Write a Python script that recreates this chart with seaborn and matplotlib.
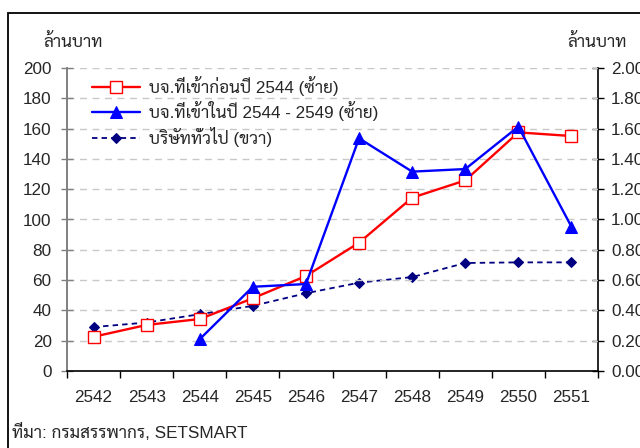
import matplotlib
matplotlib.use("Agg")
import matplotlib.pyplot as plt
from matplotlib.patches import Rectangle
from matplotlib.ticker import FixedLocator, FormatStrFormatter
import seaborn as sns
import pandas as pd

# Years (Thai Buddhist calendar)
years = ["2542", "2543", "2544", "2545", "2546", "2547", "2548", "2549", "2550", "2551"]

# Listed before 2544 (left axis, million baht)
listed_before_2544 = [22.6, 30.4, 34.3, 48, 62.7, 84.7, 114.4, 125.8, 157.5, 155.1]
# Listed during 2544-2549 (left axis, million baht)
listed_2544_2549 = [None, None, 21, 55.6, 57.4, 153.6, 131.6, 133.3, 161.3, 95.2]
# Companies in general (right axis, million baht)
general_companies = [0.29, 0.32, 0.375, 0.43, 0.513, 0.583, 0.62, 0.713, 0.717, 0.717]

label_before = "บจ.ที่เข้าก่อนปี 2544 (ซ้าย)"
label_during = "บจ.ที่เข้าในปี 2544 - 2549 (ซ้าย)"
label_general = "บริษัททั่วไป (ขวา)"
unit_label = "ล้านบาท"
source_note = "ที่มา: กรมสรรพากร, SETSMART"

left_ticks = [0, 20, 40, 60, 80, 100, 120, 140, 160, 180, 200]
right_ticks = [0.0, 0.2, 0.4, 0.6, 0.8, 1.0, 1.2, 1.4, 1.6, 1.8, 2.0]

FS = 12.3

sns.set_theme(style="white")
plt.rcParams["font.family"] = ["Liberation Sans", "Sarabun", "DejaVu Sans"]
plt.rcParams["font.size"] = FS

df = pd.DataFrame({
    "pos": range(len(years)),
    "before": listed_before_2544,
    "during": pd.array(listed_2544_2549, dtype="Float64").astype(float),
    "general": general_companies,
})

fig = plt.figure(figsize=(6.4, 4.48), dpi=100)
ax = fig.add_axes([67 / 640, 1 - 371 / 448, (598 - 67) / 640, (371 - 68) / 448])
ax2 = ax.twinx()

sns.lineplot(data=df, x="pos", y="before", ax=ax, color="#ff0000", lw=1.7,
             marker="s", markersize=8, markerfacecolor="white",
             markeredgecolor="#ff0000", markeredgewidth=1.0, zorder=3)
sns.lineplot(data=df.dropna(subset=["during"]), x="pos", y="during", ax=ax,
             color="#0000ff", lw=1.7, marker="^", markersize=8.8,
             markerfacecolor="#0000ff", markeredgecolor="#0000ff", zorder=4)
sns.lineplot(data=df, x="pos", y="general", ax=ax2, color="#000080", lw=1.3,
             ls=(0, (3, 2.3)), marker="D", markersize=5.2,
             markerfacecolor="#000080", markeredgecolor="#000080", zorder=3)

ax.set_zorder(ax2.get_zorder() + 1)
ax.patch.set_visible(False)

n = len(years)
ax.set_xlim(-0.5, n - 0.5)
ax.set_ylim(0, 200)
ax2.set_ylim(0, 2.0)
ax.set_xlabel("")
ax.set_ylabel("")
ax2.set_ylabel("")

# Dashed gridlines on the left scale
ax.yaxis.grid(True, color="#c8c8c8", lw=1, ls=(0, (5, 4)))
ax.xaxis.grid(False)
ax2.grid(False)
ax.set_axisbelow(True)

# Category labels centred, tick marks on the category boundaries
ax.set_xticks(range(n))
ax.set_xticklabels(years, fontsize=FS)
ax.xaxis.set_minor_locator(FixedLocator([i - 0.5 for i in range(n + 1)]))
ax.tick_params(axis="x", which="major", length=0, pad=14)
ax.tick_params(axis="x", which="minor", length=5, width=1, color="black",
               direction="out", bottom=True)

ax.set_yticks(left_ticks)
ax.set_yticklabels([str(v) for v in left_ticks], fontsize=FS)
ax.tick_params(axis="y", which="major", length=8, width=1, color="#808080",
               direction="inout", pad=7, left=True)

ax2.set_yticks(right_ticks)
ax2.yaxis.set_major_formatter(FormatStrFormatter("%.2f"))
ax2.tick_params(axis="y", which="major", length=9, width=1, color="black",
                direction="inout", pad=5, right=True, labelsize=FS)

ax.spines["top"].set_visible(False)
ax2.spines["top"].set_visible(False)
ax.spines["right"].set_visible(False)
ax2.spines["left"].set_visible(False)
ax2.spines["bottom"].set_visible(False)
ax.spines["left"].set_color("#808080")
ax.spines["left"].set_linewidth(1.4)
ax.spines["bottom"].set_color("black")
ax.spines["bottom"].set_linewidth(1.2)
ax2.spines["right"].set_color("black")
ax2.spines["right"].set_linewidth(1.2)

# Legend without frame in the upper left
series_lines = ax.get_lines()[:2] + ax2.get_lines()[:1]
ax.legend(series_lines, [label_before, label_during, label_general],
          loc="upper left", bbox_to_anchor=(25 / 531, 1 - 8 / 303), frameon=False,
          fontsize=FS, handlelength=2.8, handletextpad=0.55, labelspacing=0.32,
          borderaxespad=0, borderpad=0)

fig.text(43 / 640, 1 - 42 / 448, unit_label, fontsize=FS, va="center", ha="left")
fig.text(567 / 640, 1 - 42 / 448, unit_label, fontsize=FS, va="center", ha="left")
fig.text(12 / 640, 1 - 432 / 448, source_note, fontsize=FS, va="center", ha="left")

# Chart frame
fig.patches.append(Rectangle((8 / 640, -0.1), 1.2, 1.1 - 13 / 448,
                             transform=fig.transFigure, fill=False,
                             edgecolor="black", lw=1.3, zorder=0))

fig.savefig("out.png", dpi=100)
